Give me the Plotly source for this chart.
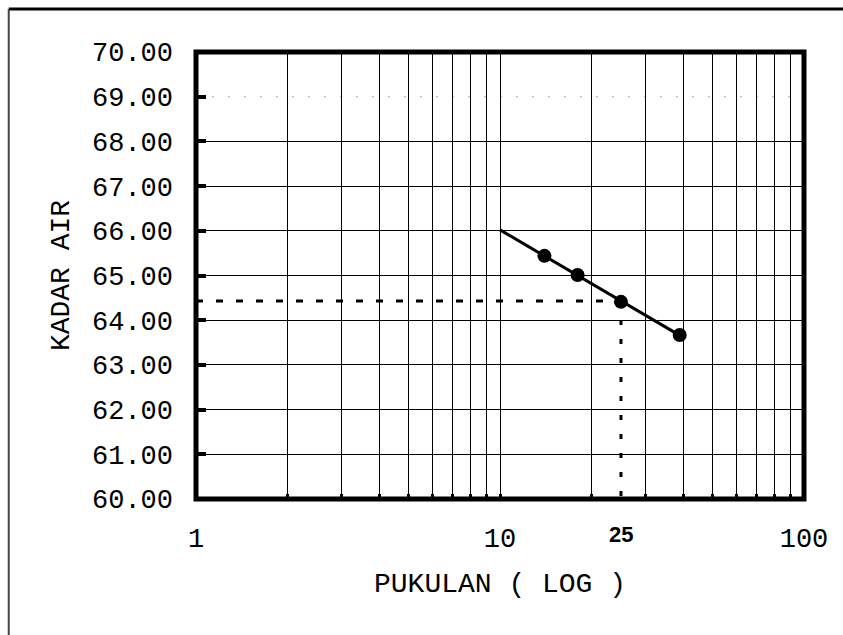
import numpy as np
import plotly.graph_objects as go

# Liquid limit test: number of blows vs. water content
blows = [14, 18, 25, 39]
kadar_air = [65.44, 65.01, 64.41, 63.67]
target_blows = 25

y_ticks = [60, 61, 62, 63, 64, 65, 66, 67, 68, 69, 70]
y_grid = [61, 62, 63, 64, 65, 66, 67, 68]
x_ticks = [1, 2, 3, 4, 5, 6, 7, 8, 9, 10, 20, 30, 40, 50, 60, 70, 80, 90, 100]
x_labels = ["1", "", "", "", "", "", "", "", "", "10",
            "", "", "", "", "", "", "", "", "100"]

# straight-line fit of water content against log(blows)
slope, intercept = np.polyfit(np.log10(blows), kadar_air, 1)
fit_x = [10, max(blows)]
fit_y = [slope * np.log10(v) + intercept for v in fit_x]
ll_value = slope * np.log10(target_blows) + intercept

mono = "Courier New, Liberation Mono, monospace"

fig = go.Figure()

# fitted flow line
fig.add_trace(go.Scatter(x=fit_x, y=fit_y, mode="lines",
                         line=dict(color="black", width=3),
                         hoverinfo="skip", showlegend=False))

# dashed construction lines at 25 blows
fig.add_trace(go.Scatter(x=[1, target_blows], y=[ll_value, ll_value], mode="lines",
                         line=dict(color="black", width=3, dash="7px,13px"),
                         hoverinfo="skip", showlegend=False))
fig.add_trace(go.Scatter(x=[target_blows, target_blows], y=[ll_value, 60], mode="lines",
                         line=dict(color="black", width=3, dash="5px,14px"),
                         hoverinfo="skip", showlegend=False))

# measured points
fig.add_trace(go.Scatter(x=blows, y=kadar_air, mode="markers",
                         marker=dict(color="black", size=14),
                         showlegend=False))

fig.update_xaxes(
    type="log", range=[0, 2],
    tickvals=x_ticks, ticktext=x_labels,
    showgrid=True, gridcolor="black", gridwidth=1.3,
    ticks="inside", ticklen=5, tickwidth=3, tickcolor="black",
    tickfont=dict(family=mono, size=27, color="black"),
    ticklabelstandoff=20,
    zeroline=False, showline=False,
    title=dict(text="PUKULAN ( LOG )", font=dict(family=mono, size=28, color="black"),
               standoff=18),
)
fig.update_yaxes(
    range=[60, 70],
    tickvals=y_ticks, ticktext=[f"{v:.2f}" for v in y_ticks],
    showgrid=False,
    ticks="inside", ticklen=10, tickwidth=4, tickcolor="black",
    tickfont=dict(family=mono, size=27, color="black"),
    ticklabelstandoff=22,
    minor=dict(tickvals=y_grid, showgrid=True, gridcolor="black", gridwidth=1.3,
               ticks=""),
    zeroline=False, showline=False,
    title=dict(text="KADAR AIR", font=dict(family=mono, size=28, color="black"),
               standoff=14),
)

shapes = [
    # faint dotted line at 69
    dict(type="line", xref="paper", yref="y", x0=0, x1=1, y0=69, y1=69,
         line=dict(color="#aaaaaa", width=1, dash="2px,14px"), layer="below"),
    # plot frame
    dict(type="rect", xref="paper", yref="paper", x0=0, x1=1, y0=0, y1=1,
         line=dict(color="black", width=5), layer="above"),
    # page border (top and left)
    dict(type="line", xref="paper", yref="paper", x0=-0.308, x1=1.1, y0=1.096, y1=1.096,
         line=dict(color="black", width=3)),
    dict(type="line", xref="paper", yref="paper", x0=-0.308, x1=-0.308, y0=1.096, y1=-0.35,
         line=dict(color="#444444", width=2)),
]

fig.update_layout(
    width=843, height=635,
    margin=dict(l=196, r=39, t=52, b=136),
    paper_bgcolor="white", plot_bgcolor="white",
    shapes=shapes,
    annotations=[dict(x=np.log10(target_blows), y=-0.08, xref="x", yref="paper",
                      yanchor="middle", text="<b>25</b>", showarrow=False,
                      font=dict(family="Arial, Liberation Sans, sans-serif", size=22,
                                color="black"))],
)

fig.write_html("out.html")
